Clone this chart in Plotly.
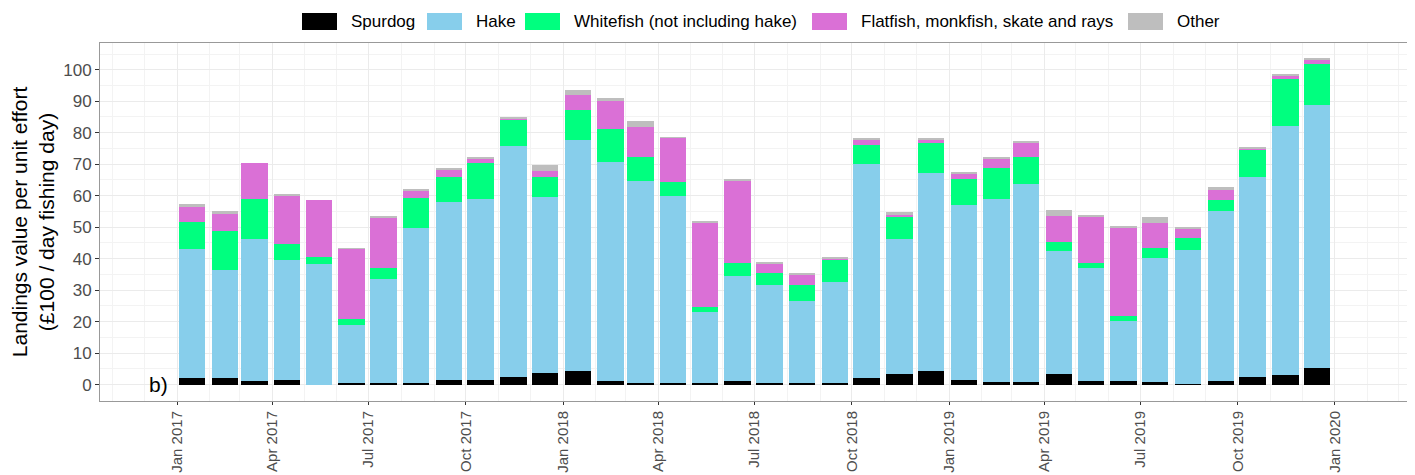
import plotly.graph_objects as go

months = [f"{y}-{m:02d}-15" for y in (2017, 2018, 2019) for m in range(1, 13)]

spurdog = [2.0, 2.0, 1.3, 1.4, 0.0, 0.4, 0.4, 0.4, 1.4, 1.4, 2.4, 3.6,
           4.2, 1.3, 0.4, 0.4, 0.6, 1.1, 0.6, 0.4, 0.4, 2.0, 3.4, 4.2,
           1.4, 0.8, 0.8, 3.4, 1.3, 1.1, 0.8, 0.2, 1.3, 2.3, 3.0, 5.4]
hake = [41.1, 34.4, 45.1, 38.2, 38.2, 18.4, 33.3, 49.5, 56.5, 57.4, 73.3, 56.0,
        73.6, 69.3, 64.3, 59.4, 22.4, 33.4, 31.0, 26.3, 32.3, 68.0, 43.0, 63.0,
        55.7, 58.2, 63.0, 38.9, 35.9, 19.2, 39.4, 42.6, 53.7, 63.7, 79.2, 83.4]
whitefish = [8.5, 12.4, 12.7, 5.1, 2.4, 2.1, 3.5, 9.5, 8.0, 11.6, 8.4, 6.4,
             9.3, 10.6, 7.6, 4.7, 1.7, 4.2, 3.7, 4.9, 7.0, 6.1, 7.1, 9.5,
             8.2, 9.9, 8.5, 2.9, 1.5, 1.5, 3.1, 3.9, 3.6, 8.8, 15.1, 13.1]
flatfish = [4.8, 5.5, 11.4, 15.1, 18.1, 22.2, 15.8, 2.2, 2.4, 1.3, 0.5, 1.8,
            5.0, 8.9, 9.5, 13.9, 26.9, 26.1, 3.2, 3.5, 0.4, 1.7, 0.4, 1.1,
            1.9, 3.0, 4.4, 8.3, 14.8, 28.1, 8.1, 3.0, 3.3, 0.2, 0.6, 1.3]
other = [0.9, 0.8, 0.0, 0.9, 0.0, 0.2, 0.4, 0.3, 0.2, 0.4, 0.4, 2.0,
         1.6, 0.8, 1.8, 0.2, 0.2, 0.2, 0.2, 0.2, 0.2, 0.3, 0.9, 0.4,
         0.2, 0.4, 0.7, 1.9, 0.2, 0.2, 1.8, 0.2, 1.0, 0.2, 0.7, 0.4]

series_names = ["Spurdog", "Hake", "Whitefish (not including hake)",
                "Flatfish, monkfish, skate and rays", "Other"]
series_values = [spurdog, hake, whitefish, flatfish, other]
series_colors = ["#000000", "#87CEEB", "#00FF7F", "#DA70D6", "#BEBEBE"]

# page body has an 8px default margin; size the figure so the panel lands where the reference has it
PAGE_OFF = 8
W, H = 1415 - PAGE_OFF, 475 - PAGE_OFF
ML, MR, MT, MB = 100 - PAGE_OFF, 6, 43 - PAGE_OFF, 74
PW, PH = W - ML - MR, H - MT - MB
BAR_WIDTH_MS = 25 * 86400000
FONT = "Liberation Sans, Arial, sans-serif"

fig = go.Figure()
for name, vals, col in zip(series_names, series_values, series_colors):
    fig.add_trace(go.Bar(x=months, y=vals, name=name, marker_color=col,
                         marker_line_width=0, width=BAR_WIDTH_MS))

fig.update_layout(
    width=W, height=H,
    barmode="stack",
    plot_bgcolor="white", paper_bgcolor="white",
    margin=dict(l=ML, r=MR, t=MT, b=MB),
    font=dict(family=FONT, size=16, color="#4D4D4D"),
    showlegend=False,
)
fig.update_xaxes(
    type="date", range=["2016-10-20", "2020-03-11"], automargin=False,
    tick0="2017-01-01", dtick="M3", tickformat="%b %Y", tickangle=-90,
    showgrid=True, gridcolor="#EBEBEB", gridwidth=1,
    minor=dict(dtick="M1", showgrid=True, gridcolor="#F3F3F3", gridwidth=1),
    ticks="outside", ticklen=3, tickcolor="#333333",
    showline=True, linecolor="#999999", mirror=True, zeroline=False,
    tickfont=dict(size=15, color="#4D4D4D"),
)
fig.update_yaxes(
    range=[-5.2, 108.5], dtick=10, tick0=0, automargin=False,
    showgrid=True, gridcolor="#EBEBEB", gridwidth=1,
    minor=dict(dtick=5, showgrid=True, gridcolor="#F3F3F3", gridwidth=1),
    ticks="outside", ticklen=4, tickcolor="#333333",
    showline=True, linecolor="#999999", mirror=True, zeroline=False,
    tickfont=dict(size=17, color="#4D4D4D"),
    title=dict(text="Landings value per unit effort<br>(£100 / day fishing day)",
               font=dict(size=21, color="#000000"), standoff=8),
)
fig.add_annotation(x="2016-12-14", y=0, xref="x", yref="y", text="b)",
                   showarrow=False, font=dict(size=21, color="#000000"),
                   xanchor="center", yanchor="middle")

# legend drawn as keys + labels above the panel (screen pixel positions -> paper coords)
key_left_px = [302, 427, 525, 812, 1128]
key_w_px, key_h_px, key_cy_px = 35, 17, 21.5

def px_x(p):
    return (p - PAGE_OFF - ML) / PW

def px_y(p):
    return (H - MB - (p - PAGE_OFF)) / PH

for name, col, kx in zip(series_names, series_colors, key_left_px):
    fig.add_shape(type="rect", xref="paper", yref="paper",
                  x0=px_x(kx), x1=px_x(kx + key_w_px),
                  y0=px_y(key_cy_px + key_h_px / 2), y1=px_y(key_cy_px - key_h_px / 2),
                  fillcolor=col, line_width=0)
    fig.add_annotation(x=px_x(kx + key_w_px + 12), y=px_y(key_cy_px),
                       xref="paper", yref="paper", text=name, showarrow=False,
                       xanchor="left", yanchor="middle",
                       font=dict(size=17, color="#000000"))

fig.write_html("out.html")
